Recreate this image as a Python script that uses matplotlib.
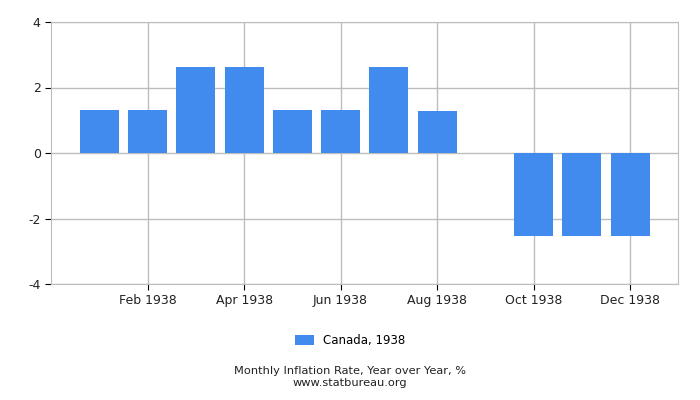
import matplotlib
matplotlib.use("Agg")
import matplotlib.pyplot as plt

# Canada, monthly inflation 1938 (year over year, %)
months = [1, 2, 3, 4, 5, 6, 7, 8, 9, 10, 11, 12]
rates = [1.32, 1.32, 2.63, 2.63, 1.32, 1.32, 2.63, 1.29, 0.0, -2.53, -2.53, -2.53]
tick_months = [2, 4, 6, 8, 10, 12]
tick_labels = ["Feb 1938", "Apr 1938", "Jun 1938", "Aug 1938", "Oct 1938", "Dec 1938"]
y_ticks = [-4, -2, 0, 2, 4]

bar_color = "#418bee"
grid_color = "#bdbdbd"

fig = plt.figure(figsize=(7, 4), dpi=100)
ax = fig.add_axes([0.073, 0.29, 0.896, 0.655])

ax.bar(months, rates, width=0.81, color=bar_color, label="Canada, 1938", zorder=3)

ax.set_xlim(0, 13)
ax.set_ylim(-4, 4)
ax.set_xticks(tick_months)
ax.set_xticklabels(tick_labels, fontsize=9)
ax.set_yticks(y_ticks)
ax.set_yticklabels([str(v) for v in y_ticks], fontsize=9)

ax.grid(True, color=grid_color, linewidth=1, zorder=0)
for s in ax.spines.values():
    s.set_color(grid_color)
ax.tick_params(axis="both", length=4, color="black", labelcolor="#222222")

fig.legend(loc="center", bbox_to_anchor=(0.5, 0.149), frameon=False, fontsize=8.5,
           handlelength=1.6, handleheight=0.9)

# two caption lines under the legend
fig.text(0.5, 0.066, "Monthly Inflation Rate, Year over Year, %", ha="center", fontsize=8.2, color="#222222")
fig.text(0.5, 0.034, "www.statbureau.org", ha="center", fontsize=8.2, color="#222222")

fig.savefig("out.png", dpi=100)
